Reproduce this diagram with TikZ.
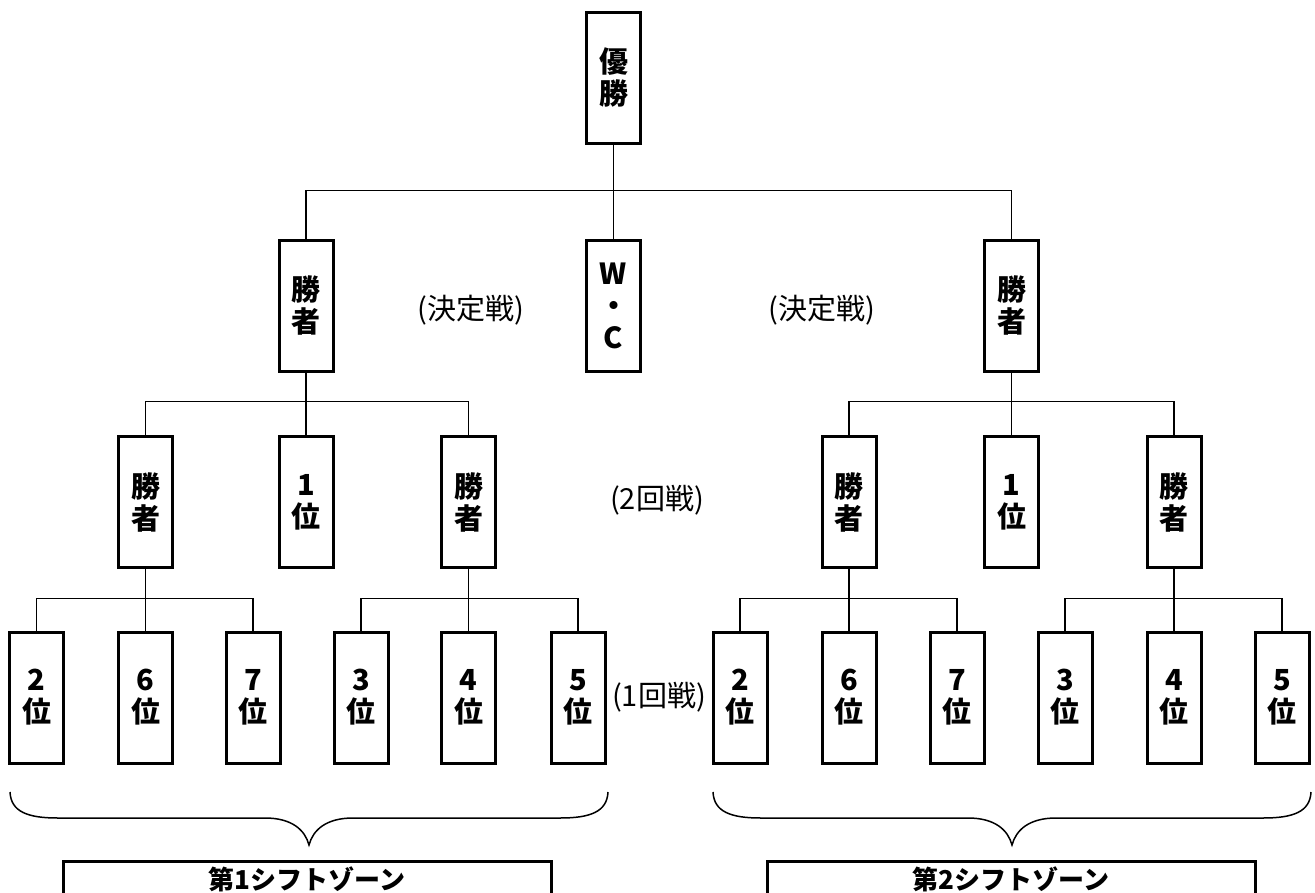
\documentclass[tikz,border=0pt]{standalone}
\usepackage{fontspec}
\newfontfamily\jp{Noto Sans CJK JP}
\begin{document}
\begin{tikzpicture}[x=1pt,y=-1pt,
  rankbox/.style={draw,line width=3pt,minimum width=54pt,minimum height=131pt,inner sep=0pt,align=center,font=\jp\bfseries\fontsize{29}{32}\selectfont},
  roundlabel/.style={font=\jp\fontsize{29}{32}\selectfont},
  zonebox/.style={draw,line width=3pt,anchor=north,minimum width=488pt,inner ysep=2pt,text height=26pt,text depth=10pt,font=\jp\bfseries\fontsize{26}{30}\selectfont},
  linkline/.style={line width=1.5pt}]
\useasboundingbox (0,0) rectangle (1315,892);
% final
\node[rankbox] (champ) at (613.5,77.5) {優\\勝};
\node[rankbox] (winL) at (306,305.5) {勝\\者};
\node[rankbox] (wc) at (613.5,305.5) {W\\・\\C};
\node[rankbox] (winR) at (1011.5,305.5) {勝\\者};
\node[roundlabel] (finL) at (471,310) {(決定戦)};
\node[roundlabel] (finR) at (822,310) {(決定戦)};
% second round
\node[rankbox] (semiLa) at (145.5,502) {勝\\者};
\node[rankbox] (oneL) at (306,502) {1\\位};
\node[rankbox] (semiLb) at (468.5,502) {勝\\者};
\node[rankbox] (semiRa) at (849,502) {勝\\者};
\node[rankbox] (oneR) at (1011.5,502) {1\\位};
\node[rankbox] (semiRb) at (1174,502) {勝\\者};
\node[roundlabel] (rtwo) at (657,500) {(2回戦)};
% first round
\node[rankbox] (twoL) at (36.5,697.5) {2\\位};
\node[rankbox] (sixL) at (145.5,697.5) {6\\位};
\node[rankbox] (sevenL) at (253,697.5) {7\\位};
\node[rankbox] (threeL) at (361,697.5) {3\\位};
\node[rankbox] (fourL) at (468.5,697.5) {4\\位};
\node[rankbox] (fiveL) at (578,697.5) {5\\位};
\node[rankbox] (twoR) at (740,697.5) {2\\位};
\node[rankbox] (sixR) at (849,697.5) {6\\位};
\node[rankbox] (sevenR) at (957,697.5) {7\\位};
\node[rankbox] (threeR) at (1065,697.5) {3\\位};
\node[rankbox] (fourR) at (1174,697.5) {4\\位};
\node[rankbox] (fiveR) at (1282,697.5) {5\\位};
\node[roundlabel] (rone) at (659,697) {(1回戦)};
% connectors
\draw[linkline] (champ) -- (wc);
\draw[linkline] (winL.north) -- ++(0,-48) -| (winR.north);
\draw[linkline] (winL) -- (oneL);
\draw[linkline] (semiLa.north) -- ++(0,-33.5) -| (semiLb.north);
\draw[linkline] (winR) -- (oneR);
\draw[linkline] (semiRa.north) -- ++(0,-33.5) -| (semiRb.north);
\draw[linkline] (semiLa) -- (sixL);
\draw[linkline] (twoL.north) -- ++(0,-32) -| (sevenL.north);
\draw[linkline] (semiLb) -- (fourL);
\draw[linkline] (threeL.north) -- ++(0,-32) -| (fiveL.north);
\draw[linkline] (semiRa) -- (sixR);
\draw[linkline] (twoR.north) -- ++(0,-32) -| (sevenR.north);
\draw[linkline] (semiRb) -- (fourR);
\draw[linkline] (threeR.north) -- ++(0,-32) -| (fiveR.north);
% zones
\draw[linkline] (10,792) .. controls (11,812) and (28,818) .. (58,818) -- (265,818) .. controls (292,818) and (305,830) .. (309,845) .. controls (313,830) and (326,818) .. (353,818) -- (560,818) .. controls (590,818) and (607,812) .. (608,792);
\draw[linkline] (713,792) .. controls (714,812) and (731,818) .. (761,818) -- (968,818) .. controls (995,818) and (1008,830) .. (1012,845) .. controls (1016,830) and (1029,818) .. (1056,818) -- (1263,818) .. controls (1293,818) and (1310,812) .. (1311,792);
\node[zonebox] (zoneL) at (307,860) {第1シフトゾーン};
\node[zonebox] (zoneR) at (1011,860) {第2シフトゾーン};
\end{tikzpicture}
\end{document}
